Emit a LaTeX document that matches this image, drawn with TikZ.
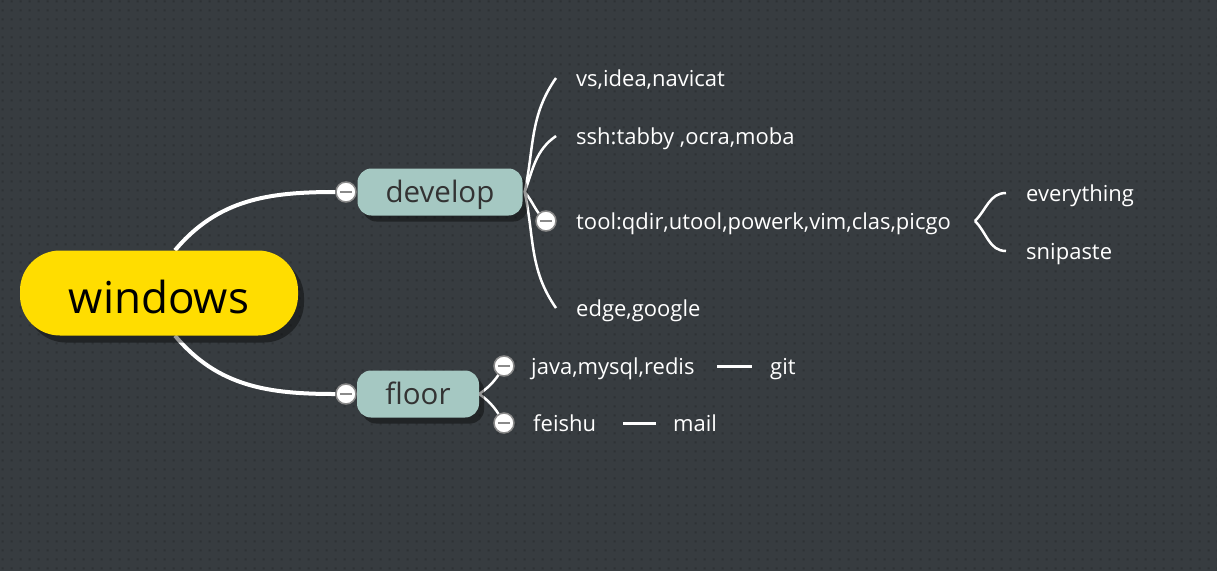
\documentclass[tikz,border=0pt]{standalone}
\usepackage{fontspec}
\setmainfont{Open Sans}
\usetikzlibrary{shadows,backgrounds,patterns.meta}
\definecolor{bgcol}{HTML}{373C40}
\definecolor{dotcol}{HTML}{2E3235}
\definecolor{rootcol}{HTML}{FFDD00}
\definecolor{topiccol}{HTML}{A5C8C2}
\definecolor{topictext}{HTML}{333333}
\definecolor{foldcol}{HTML}{8A8A8A}
\tikzdeclarepattern{
  name=griddots,
  bottom left={(0pt,0pt)},
  top right={(9pt,9pt)},
  tile size={(9pt,9pt)},
  code={\fill (3pt,3pt) rectangle (5pt,5pt);}
}
\tikzset{
  rootnode/.style={fill=rootcol,rounded corners=40pt,minimum width=278pt,minimum height=85pt,
    font=\fontsize{44}{44}\selectfont,text=black,text height=40pt,text depth=0pt,
    drop shadow={shadow xshift=6pt,shadow yshift=-7pt,fill=black,opacity=.4}},
  topic/.style={fill=topiccol,rounded corners=14pt,minimum height=47pt,
    font=\fontsize{29.5}{30}\selectfont,text=topictext,text height=21pt,text depth=0pt,
    drop shadow={shadow xshift=5pt,shadow yshift=-6pt,fill=black,opacity=.4}},
  leaf/.style={text=white,font=\fontsize{22}{22}\selectfont,inner sep=0pt,anchor=west,
    text height=20pt,text depth=4pt},
  fold/.style={circle,fill=white,draw=foldcol,line width=1.5pt,minimum size=20pt,inner sep=0pt,
    path picture={\draw[foldcol,line width=2pt]
      ([xshift=-6pt]path picture bounding box.center)--([xshift=6pt]path picture bounding box.center);}},
  mainlink/.style={white,line width=4pt},
  sublink/.style={white,line width=2.5pt},
}
\begin{document}
\begin{tikzpicture}[x=1pt,y=1pt]
% main topics
\node[rootnode] (win) at (159,-293) {windows};
\node[topic,minimum width=165pt] (dev) at (440,-192) {develop};
\node[topic,minimum width=122pt] (flr) at (418,-394) {floor};
% leaves
\node[leaf] (vs) at (576,-78) {vs,idea,navicat};
\node[leaf] (ssh) at (576,-136) {ssh:tabby ,ocra,moba};
\node[leaf] (tool) at (576,-221) {tool:qdir,utool,powerk,vim,clas,picgo};
\node[leaf] (edge) at (576,-308) {edge,google};
\node[leaf] (every) at (1026,-193) {everything};
\node[leaf] (snip) at (1026,-251) {snipaste};
\node[leaf] (java) at (531,-366) {java,mysql,redis};
\node[leaf] (git) at (770,-366) {git};
\node[leaf] (feishu) at (533,-423) {feishu};
\node[leaf] (mail) at (673,-423) {mail};
% fold buttons
\node[fold] (fdev) at (346,-192) {};
\node[fold] (fflr) at (346,-394) {};
\node[fold] (ftool) at (546,-221) {};
\node[fold] (fjava) at (504,-366) {};
\node[fold] (ffei) at (504,-423) {};
\coordinate (brace) at (975,-221);
\begin{pgfonlayer}{background}
\fill[bgcol] (0,0) rectangle (1217,-571);
\fill[pattern={griddots},pattern color=dotcol] (0,0) rectangle (1217,-571);
\draw[mainlink] ([xshift=16pt]win.north) to[out=50,in=180] (fdev.west);
\draw[mainlink] ([xshift=16pt]win.south) to[out=-50,in=180] (fflr.west);
\foreach \t/\a/\b in {vs/78/235,ssh/70/215,edge/-78/125}
{
    \draw[sublink] ([xshift=2pt]dev.east) to[out=\a,in=\b] ([xshift=-20pt]\t.west);
}
\draw[sublink] ([xshift=2pt]dev.east) to[out=-50,in=140] (ftool.center);
\draw[sublink] (brace) to[out=45,in=180] ([xshift=-20pt]every.west);
\draw[sublink] (brace) to[out=-45,in=180] ([xshift=-20pt]snip.west);
\draw[sublink] (flr.east) to[out=35,in=-120] (fjava.center);
\draw[sublink] (flr.east) to[out=-35,in=120] (ffei.center);
\draw[sublink,line width=3pt,shorten <=22pt,shorten >=18pt] (java.east) -- (git.west);
\draw[sublink,line width=3pt,shorten <=27pt,shorten >=17pt] (feishu.east) -- (mail.west);
\end{pgfonlayer}
\end{tikzpicture}
\end{document}
